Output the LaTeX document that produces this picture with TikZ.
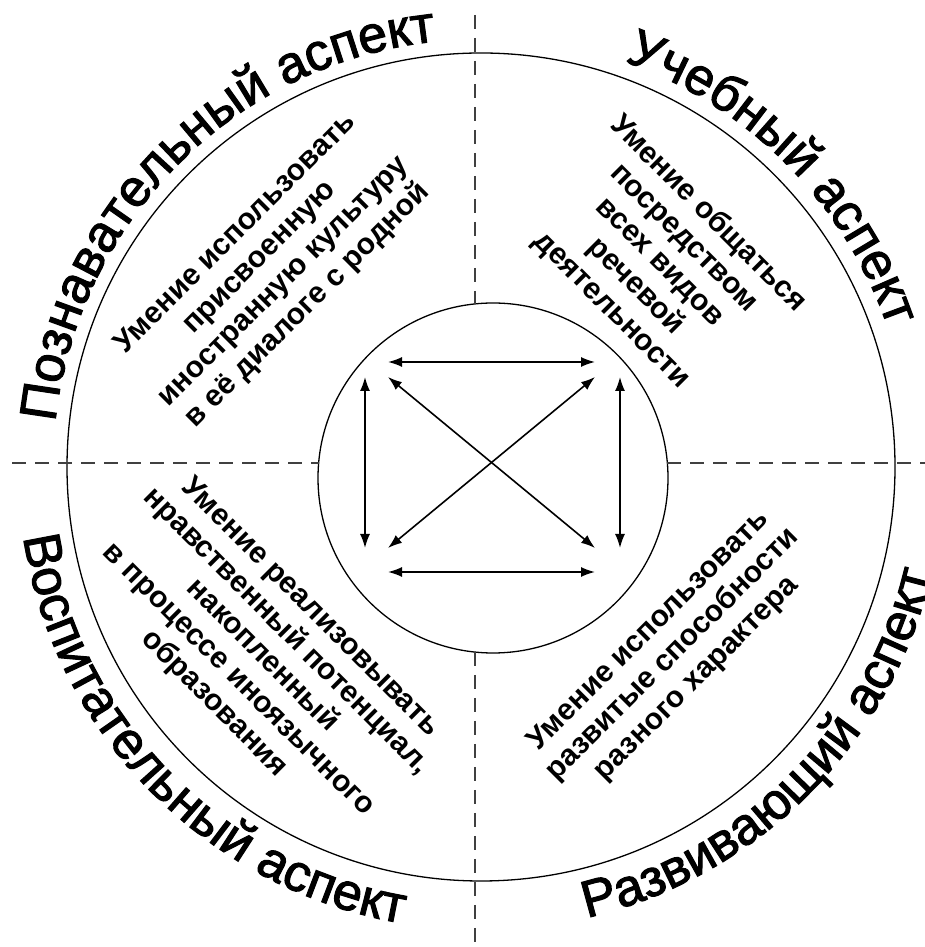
\documentclass[tikz,border=0pt]{standalone}
\usepackage{fontspec}
\setmainfont{Liberation Sans}
\newfontfamily\outerface[RawFeature={embolden=2}]{Liberation Sans}
\usetikzlibrary{arrows.meta,decorations.text}
\newcommand\outerfnt{\outerface\fontsize{52}{52}\selectfont}
\newcommand\innerfnt{\bfseries\fontsize{30}{34}\selectfont}
\begin{document}
\begin{tikzpicture}[x=1pt,y=1pt,
  ring/.style={circle,draw,line width=1.3pt,inner sep=0pt,outer sep=0pt},
  divider/.style={line width=1.6pt,draw=black!75,dash pattern=on 14pt off 9pt},
  twoarrow/.style={line width=1.6pt,{Latex[length=14pt,width=10pt]}-{Latex[length=14pt,width=10pt]}},
  aspect/.style={align=center,font=\innerfnt},
  curvedlabel/.style={decorate,decoration={text along path,text align=left,text={|\outerfnt|#1}}}
]
\useasboundingbox (0,0) rectangle (925,947);
\fill[white] (0,0) rectangle (925,947);

% circles
\node[ring,minimum size=828pt] (outer) at (481,480) {};
\node[ring,minimum size=350pt] (inner) at (493,469) {};

% dashed dividers
\coordinate (vtop) at (475,932);
\coordinate (vbot) at (475,0);
\coordinate (hleft) at (12,484);
\coordinate (hright) at (925,484);
\coordinate (vin1) at (475,643);
\coordinate (vin2) at (475,295);
\coordinate (hin1) at (318.6,484);
\coordinate (hin2) at (667.4,484);
\draw[divider] (vtop) -- (vin1);
\draw[divider] (vin2) -- (vbot);
\draw[divider] (hleft) -- (hin1);
\draw[divider] (hin2) -- (hright);

% arrows
\coordinate (htl) at (388,585);
\coordinate (htr) at (595,585);
\coordinate (hbl) at (388,375);
\coordinate (hbr) at (595,375);
\coordinate (vlt) at (365,570);
\coordinate (vlb) at (365,399);
\coordinate (vrt) at (620,570);
\coordinate (vrb) at (620,399);
\coordinate (dtl) at (388,570);
\coordinate (dtr) at (595,570);
\coordinate (dbl) at (388,399);
\coordinate (dbr) at (595,399);
\draw[twoarrow] (htl) -- (htr);
\draw[twoarrow] (hbl) -- (hbr);
\draw[twoarrow] (vlt) -- (vlb);
\draw[twoarrow] (vrt) -- (vrb);
\draw[twoarrow] (dtl) -- (dbr);
\draw[twoarrow] (dtr) -- (dbl);

% inner texts
\node[aspect,rotate=45] (cog) at (272,677) {Умение использовать\\присвоенную\\иностранную культуру\\в её диалоге с родной};
\node[aspect,rotate=-45] (edu) at (660,685) {Умение общаться\\посредством\\всех видов\\речевой\\деятельности};
\node[aspect,rotate=-45] (upb) at (262,291) {Умение реализовывать\\нравственный потенциал,\\накопленный\\в процессе иноязычного\\образования};
\node[aspect,rotate=45] (dev) at (673,292) {Умение использовать\\развитые способности\\разного характера};

% curved outer labels
\path[curvedlabel={Познавательный аспект}] ([shift={(174:428)}]481,480) arc[start angle=174,end angle=80,radius=428];
\path[curvedlabel={Учебный аспект}] ([shift={(70.5:430)}]481,480) arc[start angle=70.5,end angle=5,radius=430];
\path[curvedlabel={Воспитательный аспект}] ([shift={(188.7:463)}]481,480) arc[start angle=188.7,end angle=275,radius=463];
\path[curvedlabel={Развивающий аспект}] ([shift={(283.2:463)}]481,480) arc[start angle=283.2,end angle=358,radius=463];
\end{tikzpicture}
\end{document}
